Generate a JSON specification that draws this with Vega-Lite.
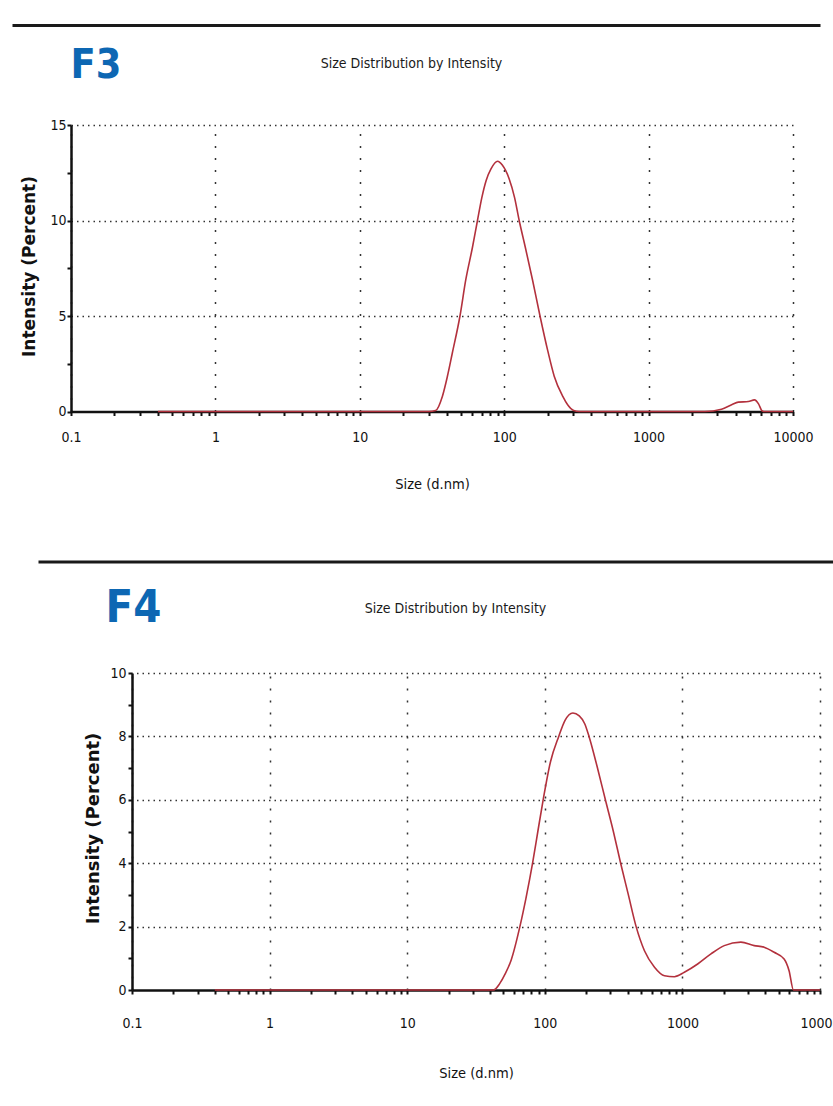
{
  "$schema": "https://vega.github.io/schema/vega-lite/v6.json",
  "background": "white",
  "padding": {"left": 12, "top": 25, "right": 0, "bottom": 0},
  "spacing": 0,
  "config": {
    "view": {"stroke": null},
    "font": "DejaVu Sans Condensed, sans-serif"
  },
  "datasets": {
    "unit": [{"v": 0}, {"v": 1}],
    "f3": [
      {"size": 0.4, "intensity": 0},
      {"size": 30, "intensity": 0},
      {"size": 33.5, "intensity": 0.05},
      {"size": 37.3, "intensity": 0.79},
      {"size": 40.4, "intensity": 1.83},
      {"size": 43.7, "intensity": 3.05},
      {"size": 49.4, "intensity": 5.0},
      {"size": 54.2, "intensity": 6.9},
      {"size": 60.3, "intensity": 8.6},
      {"size": 65.3, "intensity": 10.0},
      {"size": 70, "intensity": 11.2},
      {"size": 75, "intensity": 12.1},
      {"size": 81, "intensity": 12.7},
      {"size": 90, "intensity": 13.1},
      {"size": 97, "intensity": 12.9},
      {"size": 108, "intensity": 12.2},
      {"size": 118, "intensity": 11.2},
      {"size": 127, "intensity": 10.0},
      {"size": 140, "intensity": 8.6},
      {"size": 157, "intensity": 6.9},
      {"size": 177, "intensity": 5.0},
      {"size": 200, "intensity": 3.2},
      {"size": 222, "intensity": 1.85},
      {"size": 254, "intensity": 0.8},
      {"size": 275, "intensity": 0.35},
      {"size": 303, "intensity": 0.05},
      {"size": 330, "intensity": 0},
      {"size": 2450, "intensity": 0},
      {"size": 3200, "intensity": 0.12},
      {"size": 3760, "intensity": 0.35},
      {"size": 4180, "intensity": 0.49},
      {"size": 4910, "intensity": 0.52},
      {"size": 5410, "intensity": 0.61},
      {"size": 5770, "intensity": 0.4},
      {"size": 6080, "intensity": 0.05},
      {"size": 6300, "intensity": 0},
      {"size": 10000, "intensity": 0}
    ],
    "f4": [
      {"size": 0.4, "intensity": 0},
      {"size": 42.4, "intensity": 0},
      {"size": 47, "intensity": 0.2},
      {"size": 51.4, "intensity": 0.5},
      {"size": 57, "intensity": 0.95},
      {"size": 65.9, "intensity": 2.0},
      {"size": 73, "intensity": 2.9},
      {"size": 81.5, "intensity": 4.0},
      {"size": 89, "intensity": 5.0},
      {"size": 97.3, "intensity": 6.0},
      {"size": 110, "intensity": 7.2},
      {"size": 126.3, "intensity": 8.0},
      {"size": 140, "intensity": 8.5},
      {"size": 160, "intensity": 8.74},
      {"size": 178, "intensity": 8.65},
      {"size": 195, "intensity": 8.4},
      {"size": 209.6, "intensity": 8.0},
      {"size": 240, "intensity": 7.05},
      {"size": 275.6, "intensity": 6.0},
      {"size": 315, "intensity": 5.0},
      {"size": 355.8, "intensity": 4.0},
      {"size": 405, "intensity": 3.0},
      {"size": 461, "intensity": 2.0},
      {"size": 530, "intensity": 1.24},
      {"size": 627, "intensity": 0.72},
      {"size": 741, "intensity": 0.45},
      {"size": 875, "intensity": 0.42},
      {"size": 1033, "intensity": 0.56},
      {"size": 1291, "intensity": 0.82},
      {"size": 1613, "intensity": 1.14},
      {"size": 2015, "intensity": 1.4},
      {"size": 2661, "intensity": 1.51},
      {"size": 3325, "intensity": 1.4},
      {"size": 3928, "intensity": 1.35},
      {"size": 4641, "intensity": 1.19},
      {"size": 5484, "intensity": 0.98},
      {"size": 5960, "intensity": 0.61},
      {"size": 6412, "intensity": 0},
      {"size": 10000, "intensity": 0}
    ]
  },
  "vconcat": [
    {
      "width": 808,
      "height": 18.5,
      "data": {"name": "unit"},
      "mark": {"type": "text", "text": ""},
      "encoding": {
        "x": {"field": "v", "type": "quantitative",
          "axis": {"orient": "top", "domainWidth": 3, "domainColor": "#1a1a1a", "ticks": false, "labels": false, "grid": false, "title": null}}
      }
    },
    {
      "hconcat": [
        {"width": 59, "height": 1, "data": {"name": "unit"}, "mark": {"type": "text", "text": ""}},
        {
          "width": 722,
          "height": 286.5,
          "data": {"name": "f3"},
          "resolve": {"axis": {"x": "independent", "y": "independent"}},
          "layer": [
            {
              "mark": {"type": "point", "opacity": 0},
              "encoding": {
                "x": {"field": "size", "type": "quantitative", "scale": {"type": "log", "domain": [0.1, 10000]},
                  "axis": {"orient": "top", "values": [0.1, 1, 10, 100, 1000, 10000], "grid": true, "gridDash": [2, 10], "gridColor": "#333", "gridWidth": 1.5, "domain": false, "ticks": false, "labels": false,
                    "title": "Size Distribution by Intensity", "titleX": 340, "titleY": -58, "titleBaseline": "alphabetic", "titleAlign": "center", "titleFontSize": 14, "titleFontWeight": "normal", "titleColor": "#1a1a1a"}},
                "y": {"field": "intensity", "type": "quantitative", "scale": {"domain": [0, 15], "nice": false},
                  "axis": {"orient": "right", "values": [5, 10, 15], "grid": true, "gridDash": [1.5, 4], "gridColor": "#333", "gridWidth": 1.5, "domain": false, "ticks": false, "labels": false, "title": null}}
              }
            },
            {
              "mark": {"type": "point", "opacity": 0},
              "encoding": {
                "x": {"field": "size", "type": "quantitative", "scale": {"type": "log", "domain": [0.1, 10000]},
                  "axis": {"orient": "top", "grid": false, "domain": false, "ticks": false, "labels": false,
                    "title": "F3", "titleX": -1, "titleY": -48, "titleBaseline": "alphabetic", "titleAlign": "left", "titleFontSize": 41, "titleFontWeight": "bold", "titleColor": "#0d67b3"}},
                "y": {"field": "intensity", "type": "quantitative", "scale": {"domain": [0, 15], "nice": false}, "axis": null}
              }
            },
            {
              "mark": {"type": "line", "color": "#b3313d", "strokeWidth": 1.6, "interpolate": "monotone"},
              "encoding": {
                "x": {"field": "size", "type": "quantitative", "scale": {"type": "log", "domain": [0.1, 10000]},
                  "axis": {"orient": "bottom",
                    "values": [0.1, 0.2, 0.3, 0.4, 0.5, 0.6, 0.7, 0.8, 0.9, 1, 2, 3, 4, 5, 6, 7, 8, 9, 10, 20, 30, 40, 50, 60, 70, 80, 90, 100, 200, 300, 400, 500, 600, 700, 800, 900, 1000, 2000, 3000, 4000, 5000, 6000, 7000, 8000, 9000, 10000],
                    "labelExpr": "datum.value == 0.1 ? '0.1' : datum.value == 1 ? '1' : datum.value == 10 ? '10' : datum.value == 100 ? '100' : datum.value == 1000 ? '1000' : datum.value == 10000 ? '10000' : ''",
                    "labelOverlap": false, "labelFlush": false, "labelBound": false,
                    "grid": false, "domainColor": "#111", "domainWidth": 2.5, "tickColor": "#111", "tickSize": 4, "tickWidth": 2,
                    "labelPadding": 15, "labelFontSize": 14, "labelColor": "#111",
                    "title": "Size (d.nm)", "titleX": 361, "titleY": 76.5, "titleBaseline": "alphabetic", "titleAlign": "center", "titleFontSize": 14.5, "titleFontWeight": "normal", "titleColor": "#111"}},
                "y": {"field": "intensity", "type": "quantitative", "scale": {"domain": [0, 15], "nice": false},
                  "axis": {"orient": "left", "values": [0, 2.5, 5, 7.5, 10, 12.5, 15],
                    "labelExpr": "datum.value % 5 == 0 ? datum.value + '' : ''",
                    "labelOverlap": false, "labelFlush": false,
                    "grid": false, "domainColor": "#111", "domainWidth": 2.5, "tickColor": "#111", "tickSize": 4, "tickWidth": 2,
                    "labelPadding": 1, "labelFontSize": 14, "labelColor": "#111",
                    "title": "Intensity (Percent)", "titleFont": "DejaVu Sans", "titleFontWeight": "bold", "titleFontSize": 17, "titleColor": "#111",
                    "titleX": -33, "titleY": 141, "titleBaseline": "bottom", "titleAlign": "center", "titleAngle": 270}}
              }
            }
          ]
        }
      ],
      "spacing": 0,
      "bounds": "flush"
    },
    {
      "hconcat": [
        {"width": 26, "height": 1, "data": {"name": "unit"}, "mark": {"type": "text", "text": ""}},
        {
          "width": 795,
          "height": 87.4,
          "data": {"name": "unit"},
          "mark": {"type": "text", "text": ""},
          "encoding": {
            "x": {"field": "v", "type": "quantitative",
              "axis": {"orient": "top", "offset": -64.5, "domainWidth": 3, "domainColor": "#1a1a1a", "ticks": false, "labels": false, "grid": false, "title": null}}
          }
        }
      ],
      "spacing": 0,
      "bounds": "flush"
    },
    {
      "hconcat": [
        {"width": 120, "height": 1, "data": {"name": "unit"}, "mark": {"type": "text", "text": ""}},
        {
          "width": 688,
          "height": 317,
          "data": {"name": "f4"},
          "resolve": {"axis": {"x": "independent", "y": "independent"}},
          "layer": [
            {
              "mark": {"type": "point", "opacity": 0},
              "encoding": {
                "x": {"field": "size", "type": "quantitative", "scale": {"type": "log", "domain": [0.1, 10000]},
                  "axis": {"orient": "top", "values": [0.1, 1, 10, 100, 1000, 10000], "grid": true, "gridDash": [2, 10], "gridColor": "#333", "gridWidth": 1.5, "domain": false, "ticks": false, "labels": false,
                    "title": "Size Distribution by Intensity", "titleX": 323, "titleY": -61, "titleBaseline": "alphabetic", "titleAlign": "center", "titleFontSize": 14, "titleFontWeight": "normal", "titleColor": "#1a1a1a"}},
                "y": {"field": "intensity", "type": "quantitative", "scale": {"domain": [0, 10], "nice": false},
                  "axis": {"orient": "right", "values": [2, 4, 6, 8, 10], "grid": true, "gridDash": [1.5, 4], "gridColor": "#333", "gridWidth": 1.5, "domain": false, "ticks": false, "labels": false, "title": null}}
              }
            },
            {
              "mark": {"type": "point", "opacity": 0},
              "encoding": {
                "x": {"field": "size", "type": "quantitative", "scale": {"type": "log", "domain": [0.1, 10000]},
                  "axis": {"orient": "top", "grid": false, "domain": false, "ticks": false, "labels": false,
                    "title": "F4", "titleX": -27, "titleY": -52, "titleBaseline": "alphabetic", "titleAlign": "left", "titleFontSize": 45, "titleFontWeight": "bold", "titleColor": "#0d67b3"}},
                "y": {"field": "intensity", "type": "quantitative", "scale": {"domain": [0, 10], "nice": false}, "axis": null}
              }
            },
            {
              "mark": {"type": "line", "color": "#b3313d", "strokeWidth": 1.6, "interpolate": "monotone"},
              "encoding": {
                "x": {"field": "size", "type": "quantitative", "scale": {"type": "log", "domain": [0.1, 10000]},
                  "axis": {"orient": "bottom",
                    "values": [0.1, 0.2, 0.3, 0.4, 0.5, 0.6, 0.7, 0.8, 0.9, 1, 2, 3, 4, 5, 6, 7, 8, 9, 10, 20, 30, 40, 50, 60, 70, 80, 90, 100, 200, 300, 400, 500, 600, 700, 800, 900, 1000, 2000, 3000, 4000, 5000, 6000, 7000, 8000, 9000, 10000],
                    "labelExpr": "datum.value == 0.1 ? '0.1' : datum.value == 1 ? '1' : datum.value == 10 ? '10' : datum.value == 100 ? '100' : datum.value == 1000 ? '1000' : datum.value == 10000 ? '10000' : ''",
                    "labelOverlap": false, "labelFlush": false, "labelBound": false,
                    "grid": false, "domainColor": "#111", "domainWidth": 2.5, "tickColor": "#111", "tickSize": 4, "tickWidth": 2,
                    "labelPadding": 22, "labelFontSize": 14, "labelColor": "#111",
                    "title": "Size (d.nm)", "titleX": 344, "titleY": 87, "titleBaseline": "alphabetic", "titleAlign": "center", "titleFontSize": 14.5, "titleFontWeight": "normal", "titleColor": "#111"}},
                "y": {"field": "intensity", "type": "quantitative", "scale": {"domain": [0, 10], "nice": false},
                  "axis": {"orient": "left", "values": [0, 1, 2, 3, 4, 5, 6, 7, 8, 9, 10],
                    "labelExpr": "datum.value % 2 == 0 ? datum.value + '' : ''",
                    "labelOverlap": false, "labelFlush": false,
                    "grid": false, "domainColor": "#111", "domainWidth": 2.5, "tickColor": "#111", "tickSize": 4, "tickWidth": 2,
                    "labelPadding": 2, "labelFontSize": 14, "labelColor": "#111",
                    "title": "Intensity (Percent)", "titleFont": "DejaVu Sans", "titleFontWeight": "bold", "titleFontSize": 18, "titleColor": "#111",
                    "titleX": -30, "titleY": 155, "titleBaseline": "bottom", "titleAlign": "center", "titleAngle": 270}}
              }
            }
          ]
        }
      ],
      "spacing": 0,
      "bounds": "flush"
    }
  ]
}
